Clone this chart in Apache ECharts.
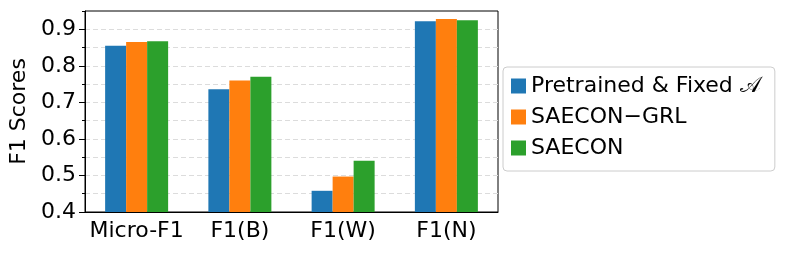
<!DOCTYPE html>
<html>
<head>
<meta charset="utf-8">
<script src="https://cdn.jsdelivr.net/npm/echarts@6/dist/echarts.min.js"></script>
<style>
html,body{margin:0;padding:0;background:#fff;}
#c{width:788px;height:255px;}
</style>
</head>
<body>
<div id="c"></div>
<script>
const categories = ['Micro-F1', 'F1(B)', 'F1(W)', 'F1(N)'];
const seriesNames = ['Pretrained & Fixed \uD835\uDC9C', 'SAECON\u2212GRL', 'SAECON'];
const pretrainedFixed = [0.855, 0.736, 0.458, 0.922];
const saeconGrl = [0.865, 0.760, 0.497, 0.928];
const saecon = [0.867, 0.770, 0.540, 0.925];
const yTicks = [0.4, 0.5, 0.6, 0.7, 0.8, 0.9];
const yMin = 0.4, yMax = 0.95;

const colors = ['#1f77b4', '#ff7f0e', '#2ca02c'];
const font = 'DejaVu Sans';
const values = [pretrainedFixed, saeconGrl, saecon];

const chart = echarts.init(document.getElementById('c'), null, {renderer: 'canvas'});
chart.setOption({
  animation: false,
  textStyle: {fontFamily: font},
  grid: {left: 83, top: 11, width: 415, bottom: 43, show: true, borderColor: '#000', borderWidth: 1, containLabel: false},
  legend: {
    orient: 'vertical', left: 503, top: 67,
    itemWidth: 15, itemHeight: 15, itemGap: 9,
    icon: 'rect',
    padding: [8, 14, 12, 8],
    borderColor: '#ccc', borderWidth: 1, borderRadius: 4,
    textStyle: {fontFamily: font, fontSize: 22, color: '#000'},
    data: seriesNames
  },
  xAxis: {
    type: 'category', data: categories,
    axisLine: {lineStyle: {color: '#000', width: 1}},
    axisTick: {alignWithLabel: true, length: 5, lineStyle: {color: '#000'}},
    axisLabel: {interval: 0, fontFamily: font, fontSize: 22, color: '#000', margin: 8}
  },
  yAxis: [
    {
      type: 'value', min: yMin, max: yMax, interval: 0.05,
      axisLine: {show: true, lineStyle: {color: '#000', width: 1}},
      axisTick: {show: true, length: 3, lineStyle: {color: '#000'}},
      axisLabel: {show: false},
      splitLine: {show: true, showMinLine: false, showMaxLine: false, lineStyle: {color: '#dcdcdc', type: [5, 3], width: 1}}
    },
    {
      type: 'value', min: yMin, max: yMax, position: 'left',
      name: 'F1 Scores', nameLocation: 'middle', nameGap: 55, nameRotate: 90,
      nameTextStyle: {fontFamily: font, fontSize: 22, color: '#000'},
      axisLine: {show: false},
      axisTick: {show: true, length: 6, customValues: yTicks, lineStyle: {color: '#000'}},
      axisLabel: {show: true, customValues: yTicks, fontFamily: font, fontSize: 22, color: '#000', margin: 9,
        formatter: v => v.toFixed(1)},
      splitLine: {show: false}
    }
  ],
  series: seriesNames.map((n, i) => ({
    name: n, type: 'bar', data: values[i], yAxisIndex: 0,
    barWidth: 21, barGap: '0%',
    itemStyle: {color: colors[i]}
  }))
});
</script>
</body>
</html>
